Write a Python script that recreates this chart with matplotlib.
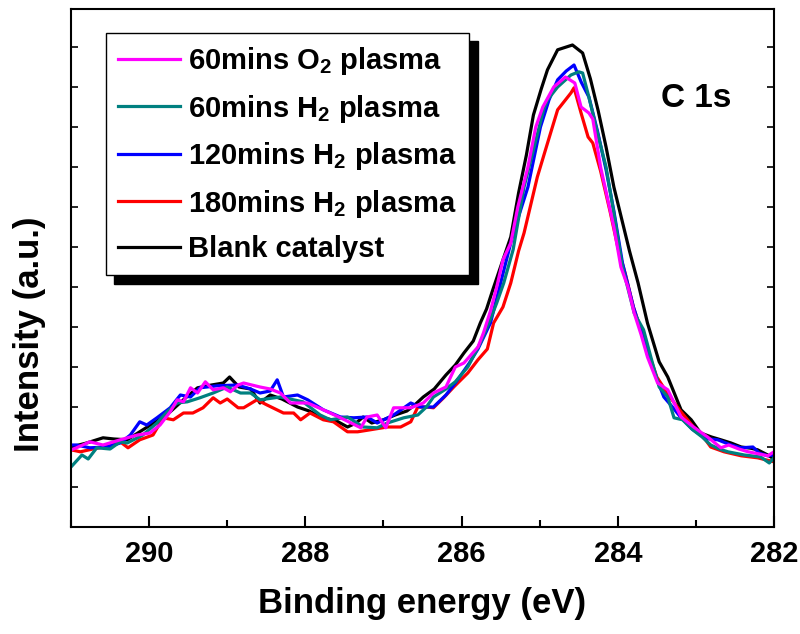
import matplotlib
matplotlib.use("Agg")
import matplotlib.pyplot as plt
from matplotlib.ticker import MultipleLocator

plt.rcParams['font.family'] = ['Liberation Sans', 'DejaVu Sans']
plt.rcParams['font.weight'] = 'bold'
plt.rcParams['axes.labelweight'] = 'bold'
plt.rcParams['mathtext.fontset'] = 'custom'
plt.rcParams['mathtext.rm'] = 'Liberation Sans:bold'
plt.rcParams['mathtext.bf'] = 'Liberation Sans:bold'

# ---- data (binding energy in eV, intensity in a.u.) ----
black_x = [291.0, 290.8, 290.59, 290.45, 290.28, 290.08, 289.9, 289.73, 289.55, 289.38, 289.2, 289.05,
           288.97, 288.85, 288.7, 288.58, 288.45, 288.3, 288.1, 287.95, 287.81, 287.6, 287.46, 287.35,
           287.26, 287.15, 287.0, 286.85, 286.7, 286.6, 286.49, 286.35, 286.2, 286.08, 285.97, 285.85,
           285.76, 285.68, 285.6, 285.47, 285.37, 285.27, 285.17, 285.08, 284.98, 284.9, 284.77, 284.58,
           284.45, 284.35, 284.25, 284.15, 284.05, 283.95, 283.85, 283.74, 283.62, 283.47, 283.36, 283.19,
           283.06, 282.94, 282.8, 282.68, 282.55, 282.42, 282.3, 282.21, 282.08, 282.0]
black_y = [2.0, 2.1, 2.23, 2.2, 2.18, 2.43, 2.65, 2.88, 3.2, 3.48, 3.55, 3.6,
           3.75, 3.5, 3.45, 3.1, 3.3, 3.2, 3.0, 2.9, 2.75, 2.65, 2.5, 2.6,
           2.75, 2.6, 2.68, 2.8, 2.9, 3.05, 3.25, 3.45, 3.8, 4.05, 4.35, 4.65,
           5.1, 5.45, 5.93, 6.68, 7.25, 8.35, 9.3, 10.3, 10.95, 11.43, 11.93, 12.05,
           11.85, 11.2, 10.4, 9.5, 8.5, 7.7, 6.9, 6.1, 5.1, 4.13, 3.75, 2.93,
           2.68, 2.35, 2.25, 2.18, 2.1, 2.0, 1.97, 1.93, 1.8, 1.7]

red_x = [291.0, 290.88, 290.72, 290.5, 290.37, 290.27, 290.12, 289.95, 289.82, 289.69, 289.56, 289.44,
         289.31, 289.18, 289.09, 289.0, 288.86, 288.79, 288.62, 288.49, 288.28, 288.15, 288.06, 287.94,
         287.77, 287.64, 287.46, 287.33, 287.17, 286.95, 286.78, 286.65, 286.56, 286.44, 286.36, 286.23,
         286.1, 285.92, 285.79, 285.67, 285.59, 285.47, 285.37, 285.27, 285.2, 285.03, 284.93, 284.77,
         284.6, 284.56, 284.47, 284.38, 284.32, 284.22, 284.1, 284.0, 283.9, 283.8, 283.65, 283.5,
         283.35, 283.2, 283.03, 282.94, 282.81, 282.64, 282.42, 282.21, 282.0]
red_y = [1.93, 1.88, 1.95, 2.03, 2.13, 1.98, 2.18, 2.3, 2.73, 2.68, 2.85, 2.85,
         2.98, 3.23, 3.1, 3.2, 2.98, 2.98, 3.18, 3.05, 2.85, 2.85, 2.68, 2.85,
         2.68, 2.63, 2.38, 2.38, 2.43, 2.5, 2.5, 2.63, 3.0, 3.0, 2.98, 3.23,
         3.5, 3.85, 4.18, 4.45, 5.1, 5.5, 6.1, 6.9, 7.35, 8.75, 9.4, 10.43,
         10.85, 10.98, 10.35, 9.75, 9.6, 8.9, 7.9, 7.0, 6.3, 5.5, 4.6, 3.75,
         3.3, 2.9, 2.5, 2.35, 2.0, 1.88, 1.78, 1.73, 1.63]

blue_x = [291.0, 290.93, 290.76, 290.54, 290.37, 290.24, 290.12, 290.03, 289.9, 289.73, 289.6, 289.47,
          289.35, 289.13, 288.87, 288.7, 288.58, 288.45, 288.36, 288.28, 288.1, 287.97, 287.77, 287.55,
          287.38, 287.21, 287.08, 286.87, 286.65, 286.53, 286.36, 286.2, 286.08, 285.9, 285.79, 285.63,
          285.5, 285.37, 285.28, 285.15, 284.99, 284.88, 284.77, 284.66, 284.56, 284.47, 284.37, 284.26,
          284.15, 284.05, 283.94, 283.8, 283.65, 283.5, 283.41, 283.3, 283.19, 283.05, 282.94, 282.83,
          282.72, 282.55, 282.42, 282.27, 282.19, 282.08, 282.0]
blue_y = [2.05, 2.05, 1.98, 2.0, 2.1, 2.3, 2.63, 2.55, 2.73, 2.98, 3.3, 3.25,
          3.48, 3.53, 3.55, 3.45, 3.35, 3.4, 3.68, 3.25, 3.3, 3.18, 2.93, 2.75,
          2.73, 2.75, 2.6, 2.8, 3.1, 3.0, 3.0, 3.3, 3.6, 4.1, 4.45, 5.1,
          6.1, 7.1, 7.7, 8.5, 10.0, 10.68, 11.18, 11.4, 11.55, 11.13, 10.75, 9.9,
          8.93, 7.9, 6.6, 5.5, 4.6, 3.7, 3.25, 3.0, 2.73, 2.45, 2.3, 2.2,
          2.18, 2.05, 1.98, 2.0, 1.85, 1.78, 1.8]

teal_x = [291.0, 290.86, 290.78, 290.67, 290.5, 290.37, 290.28, 290.08, 289.9, 289.77, 289.64, 289.51,
          289.35, 289.18, 289.0, 288.83, 288.7, 288.58, 288.32, 288.03, 287.81, 287.68, 287.46, 287.26,
          287.08, 286.95, 286.74, 286.56, 286.45, 286.36, 286.2, 286.08, 285.92, 285.76, 285.63, 285.55,
          285.46, 285.34, 285.2, 285.08, 284.95, 284.9, 284.77, 284.6, 284.5, 284.45, 284.37, 284.26,
          284.15, 284.05, 283.94, 283.79, 283.67, 283.57, 283.47, 283.36, 283.28, 283.17, 283.04, 282.92,
          282.81, 282.7, 282.59, 282.38, 282.17, 282.06, 282.0]
teal_y = [1.5, 1.8, 1.7, 1.98, 1.95, 2.13, 2.1, 2.3, 2.6, 2.88, 3.1, 3.13,
          3.23, 3.35, 3.5, 3.35, 3.35, 3.18, 3.25, 3.13, 2.8, 2.68, 2.75, 2.5,
          2.48, 2.6, 2.73, 2.8, 3.0, 3.25, 3.45, 3.63, 4.0, 4.6, 5.2, 5.6,
          6.1, 6.93, 8.5, 9.43, 10.43, 10.68, 11.0, 11.3, 11.38, 11.35, 10.75, 9.85,
          9.0, 7.85, 6.5, 5.35, 4.93, 4.2, 3.5, 3.25, 2.73, 2.68, 2.43, 2.25,
          2.05, 1.95, 1.88, 1.8, 1.75, 1.6, 1.73]

magenta_x = [291.0, 290.93, 290.76, 290.59, 290.37, 290.15, 289.99, 289.86, 289.73, 289.64, 289.56, 289.47,
             289.38, 289.28, 289.18, 289.05, 288.96, 288.86, 288.79, 288.58, 288.45, 288.32, 288.19, 287.97,
             287.77, 287.55, 287.29, 287.21, 287.08, 286.97, 286.87, 286.65, 286.49, 286.36, 286.2, 286.08,
             285.97, 285.79, 285.72, 285.63, 285.55, 285.47, 285.37, 285.28, 285.15, 285.05, 284.96, 284.82,
             284.67, 284.55, 284.47, 284.37, 284.32, 284.22, 284.05, 283.96, 283.87, 283.79, 283.7, 283.62,
             283.49, 283.36, 283.19, 283.03, 282.85, 282.68, 282.58, 282.45, 282.33, 282.2, 282.08, 282.0]
magenta_y = [1.93, 1.98, 2.13, 2.05, 2.18, 2.3, 2.35, 2.55, 2.88, 3.18, 3.13, 3.48,
             3.35, 3.63, 3.43, 3.48, 3.38, 3.55, 3.6, 3.5, 3.45, 3.35, 3.1, 3.1,
             2.93, 2.73, 2.48, 2.75, 2.8, 2.48, 2.98, 2.98, 3.1, 3.35, 3.5, 4.0,
             4.1, 4.5, 4.85, 5.4, 6.0, 6.68, 7.1, 8.0, 9.0, 10.0, 10.5, 11.0,
             11.25, 11.1, 10.5, 10.35, 10.2, 9.0, 7.5, 6.5, 6.0, 5.35, 4.8, 4.25,
             3.6, 3.43, 2.75, 2.5, 2.25, 1.98, 2.05, 1.95, 1.88, 1.83, 1.78, 1.88]

labels = [r"60mins O$_\mathrm{2}$ plasma", r"60mins H$_\mathrm{2}$ plasma",
          r"120mins H$_\mathrm{2}$ plasma", r"180mins H$_\mathrm{2}$ plasma", "Blank catalyst"]
colors = ["#FF00FF", "#008080", "#0000FF", "#FF0000", "#000000"]

fig = plt.figure(figsize=(8.0, 6.34), dpi=100)
ax = fig.add_axes([71/800, 107/634, 703/800, 518/634])

lw = 2.3
h_black, = ax.plot(black_x, black_y, color=colors[4], lw=lw)
h_red, = ax.plot(red_x, red_y, color=colors[3], lw=lw)
h_blue, = ax.plot(blue_x, blue_y, color=colors[2], lw=lw)
h_teal, = ax.plot(teal_x, teal_y, color=colors[1], lw=lw)
h_mag, = ax.plot(magenta_x, magenta_y, color=colors[0], lw=lw)

ax.set_xlim(291, 282)
ax.set_ylim(0, 12.95)
ax.xaxis.set_major_locator(MultipleLocator(2))
ax.xaxis.set_minor_locator(MultipleLocator(1))
ax.yaxis.set_major_locator(MultipleLocator(1))
ax.tick_params(axis='x', which='major', direction='in', length=8, width=1.5,
               labelsize=21, pad=9, top=False)
ax.tick_params(axis='x', which='minor', direction='in', length=5, width=1.5, top=False)
ax.tick_params(axis='y', which='both', direction='in', length=5, width=1.2,
               left=True, right=True, labelleft=False)
for lab in ax.get_xticklabels():
    lab.set_fontweight('bold')
for s in ax.spines.values():
    s.set_linewidth(1.5)

ax.set_xlabel("Binding energy (eV)", fontsize=25, fontweight='bold', labelpad=14)
ax.set_ylabel("Intensity (a.u.)", fontsize=25, fontweight='bold')
ax.yaxis.set_label_coords(-0.036, 0.373)

ax.text(0.890, 0.828, "C 1s", transform=ax.transAxes, fontsize=24,
        fontweight='bold', ha='center', va='center')

leg = ax.legend([h_mag, h_teal, h_blue, h_red, h_black], labels,
                loc='upper left', bbox_to_anchor=(0.0498, 0.9537), borderaxespad=0,
                prop={'size': 21, 'weight': 'bold'}, frameon=True, fancybox=False,
                framealpha=1, edgecolor='black', handlelength=2.1, handletextpad=0.3,
                labelspacing=0.53, borderpad=0.42,
                shadow={'color': 'black', 'alpha': 1, 'ox': 6, 'oy': -6})
leg.get_frame().set_linewidth(1.0)
for line in leg.get_lines():
    line.set_linewidth(2.3)

fig.savefig("out.png", dpi=100)
